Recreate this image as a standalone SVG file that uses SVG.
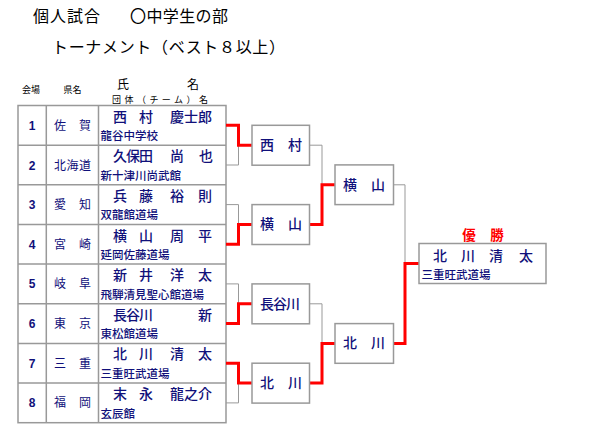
<svg xmlns="http://www.w3.org/2000/svg" width="600" height="430" viewBox="0 0 600 430">
<style>
.t{font-family:"Noto Sans CJK JP","Noto Sans",sans-serif;fill:#000;}
.n{font-family:"Noto Sans CJK JP","Noto Sans",sans-serif;fill:#10107a;text-anchor:middle;}
.num{font-family:"Liberation Sans",Arial,sans-serif;font-weight:bold;fill:#10107a;text-anchor:middle;font-size:12px;}
.pref{font-size:12px;}
.name{font-size:14px;font-weight:500;}
.team{font-family:"Noto Sans CJK JP","Noto Sans",sans-serif;fill:#10107a;font-size:11.5px;font-weight:500;}
.box{fill:#fff;stroke:#999;stroke-width:1.5;}
.grid{fill:none;stroke:#999;stroke-width:1.5;}
.g{fill:none;stroke:#999;stroke-width:1;}
.r{fill:none;stroke:#f00;stroke-width:3;}
</style>
<rect width="600" height="430" fill="#fff"/>
<g id="title">
<text class="t" x="33" y="22" font-size="16" textLength="67">個人試合</text>
<text class="t" x="130" y="22" font-size="16" textLength="98">〇中学生の部</text>
<text class="t" x="52" y="53" font-size="16" textLength="233">トーナメント（ベスト８以上）</text>
</g>
<g id="header">
<text class="t" x="31" y="93" font-size="9" text-anchor="middle">会場</text>
<text class="t" x="72.5" y="93" font-size="9" text-anchor="middle">県名</text>
<text class="t" x="123" y="89" font-size="12" text-anchor="middle">氏</text>
<text class="t" x="193" y="89" font-size="12" text-anchor="middle">名</text>
<text class="t" x="112" y="103" font-size="9" textLength="96">団体（チーム）名</text>
</g>
<g id="table">
<rect class="grid" x="18" y="105.5" width="208" height="317.2"/>
<path class="grid" d="M46.3 105.5V422.7M98.5 105.5V422.7M18 145.15H226M18 184.8H226M18 224.45H226M18 264.1H226M18 303.75H226M18 343.4H226M18 383.05H226"/>
</g>
<g id="entry1">
<text class="num" x="32" y="129.8">1</text>
<text class="n pref" x="60 85" y="129.8">佐賀</text>
<text class="n name" x="120 146 177 191 205" y="121.5">西村慶士郎</text>
<text class="team" x="100.5" y="140">龍谷中学校</text>
</g>
<g id="entry2">
<text class="num" x="32" y="169.5">2</text>
<text class="n pref" x="60 72.5 85" y="169.5">北海道</text>
<text class="n name" x="120 133 146 177 206" y="161.2">久保田尚也</text>
<text class="team" x="100.5" y="179.6">新十津川尚武館</text>
</g>
<g id="entry3">
<text class="num" x="32" y="209.1">3</text>
<text class="n pref" x="60 85" y="209.1">愛知</text>
<text class="n name" x="120 146 177 205" y="200.8">兵藤裕則</text>
<text class="team" x="100.5" y="219.3">双龍館道場</text>
</g>
<g id="entry4">
<text class="num" x="32" y="248.8">4</text>
<text class="n pref" x="60 85" y="248.8">宮崎</text>
<text class="n name" x="120 146 177 205" y="240.5">横山周平</text>
<text class="team" x="100.5" y="258.9">延岡佐藤道場</text>
</g>
<g id="entry5">
<text class="num" x="32" y="288.4">5</text>
<text class="n pref" x="60 85" y="288.4">岐阜</text>
<text class="n name" x="120 146 177 205" y="280.1">新井洋太</text>
<text class="team" x="100.5" y="298.6">飛騨清見聖心館道場</text>
</g>
<g id="entry6">
<text class="num" x="32" y="328.1">6</text>
<text class="n pref" x="60 85" y="328.1">東京</text>
<text class="n name" x="120 133 146 205" y="319.8">長谷川新</text>
<text class="team" x="100.5" y="338.2">東松館道場</text>
</g>
<g id="entry7">
<text class="num" x="32" y="367.7">7</text>
<text class="n pref" x="60 85" y="367.7">三重</text>
<text class="n name" x="120 146 177 205" y="359.4">北川清太</text>
<text class="team" x="100.5" y="377.9">三重旺武道場</text>
</g>
<g id="entry8">
<text class="num" x="32" y="407.4">8</text>
<text class="n pref" x="60 85" y="407.4">福岡</text>
<text class="n name" x="120 146 177 191 205" y="399.1">末永龍之介</text>
<text class="team" x="100.5" y="417.5">玄辰館</text>
</g>
<g id="connectors">
<path class="g" d="M226 165H238.5V145.2M226 204.6H238.5V224.5M226 283.9H238.5V303.8M226 402.9H238.5V383M309.5 145.2H322V184.8M309.5 303.8H322V343.4M393.5 184.8H405V263.4"/>
<path class="r" d="M226 125.3H238.5V145.2H252"/>
<path class="r" d="M226 244.3H238.5V224.5H252"/>
<path class="r" d="M226 323.6H238.5V303.8H252"/>
<path class="r" d="M226 363.2H238.5V383H252"/>
<path class="r" d="M309.5 224.5H322V184.8H335"/>
<path class="r" d="M309.5 383H322V343.4H335"/>
<path class="r" d="M393.5 343.4H405V263.4H419"/>
</g>
<g id="r1m1">
<rect class="box" x="252" y="125.3" width="57.5" height="39.9"/>
<text class="n name" x="267 295" y="150">西村</text>
</g>
<g id="r1m2">
<rect class="box" x="252" y="204.6" width="57.5" height="39.9"/>
<text class="n name" x="267 295" y="229.3">横山</text>
</g>
<g id="r1m3">
<rect class="box" x="252" y="283.9" width="57.5" height="39.9"/>
<text class="n name" x="267 280 293" y="308.6">長谷川</text>
</g>
<g id="r1m4">
<rect class="box" x="252" y="363.2" width="57.5" height="39.9"/>
<text class="n name" x="267 295" y="387.8">北川</text>
</g>
<g id="r2m1">
<rect class="box" x="335" y="164.9" width="58.5" height="39.7"/>
<text class="n name" x="350 378" y="189.6">横山</text>
</g>
<g id="r2m2">
<rect class="box" x="335" y="323.6" width="58.5" height="39.7"/>
<text class="n name" x="350 378" y="348.2">北川</text>
</g>
<g id="winner">
<text class="n" x="469 497" y="240" font-size="13.5" font-weight="bold" style="fill:#f00">優勝</text>
<rect class="box" x="419" y="243.5" width="127" height="40"/>
<text class="n name" x="440 468 496 526" y="260.7">北川清太</text>
<text class="team" x="421.5" y="278.5">三重旺武道場</text>
</g>
</svg>
